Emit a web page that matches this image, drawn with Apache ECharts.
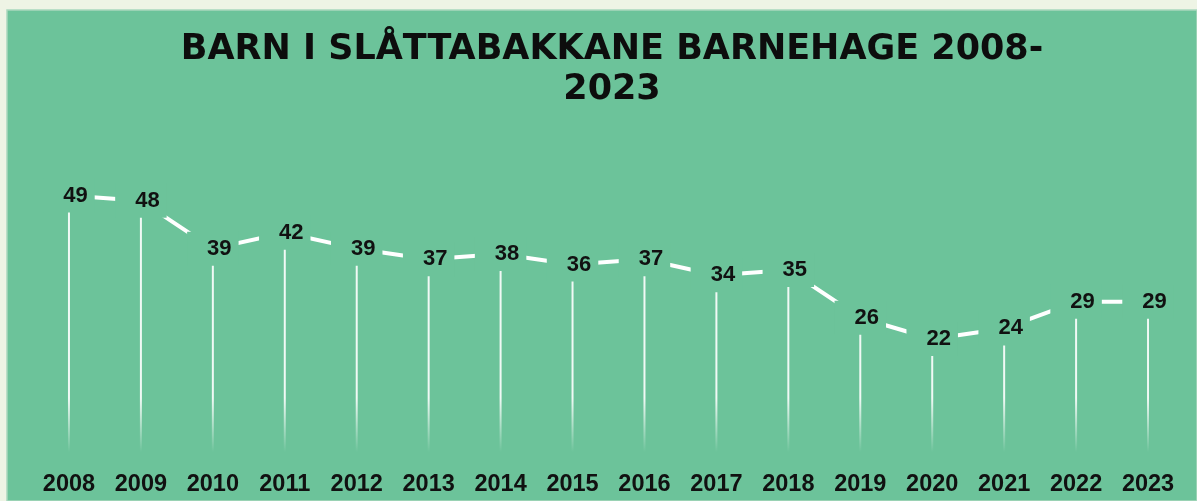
<!DOCTYPE html>
<html>
<head>
<meta charset="utf-8">
<script src="https://cdn.jsdelivr.net/npm/echarts@6/dist/echarts.min.js"></script>
<style>
  html, body { margin: 0; padding: 0; background: #eef4e5; }
  #chart { width: 1197px; height: 501px; }
</style>
</head>
<body>
<div id="chart"></div>
<script>
const years = ['2008', '2009', '2010', '2011', '2012', '2013', '2014', '2015',
  '2016', '2017', '2018', '2019', '2020', '2021', '2022', '2023'];
const children = [49, 48, 39, 42, 39, 37, 38, 36, 37, 34, 35, 26, 22, 24, 29, 29];

const GREEN = '#6cc39a';

const chart = echarts.init(document.getElementById('chart'));

chart.setOption({
  backgroundColor: 'transparent',
  animation: false,
  graphic: [
    {
      type: 'rect',
      z: -10,
      shape: { x: 7, y: 10, width: 1190, height: 491 },
      style: { fill: GREEN, stroke: '#a9d8bd', lineWidth: 1.5 },
    },
  ],
  title: {
    text: 'BARN I SLÅTTABAKKANE BARNEHAGE 2008-\n2023',
    left: 607,
    top: 25,
    textAlign: 'center',
    textStyle: {
      fontFamily: 'DejaVu Sans',
      fontWeight: 'bold',
      fontSize: 35,
      lineHeight: 40,
      color: '#0d0d0d',
    },
  },
  grid: { left: 33, right: 13, top: 137, bottom: 45 },
  xAxis: {
    type: 'category',
    data: years,
    boundaryGap: true,
    axisLine: { show: false },
    axisTick: { show: false },
    axisLabel: {
      margin: 17,
      fontFamily: 'Liberation Sans',
      fontWeight: 'bold',
      fontSize: 23.5,
      color: '#111',
    },
  },
  yAxis: {
    type: 'value',
    min: 0,
    max: 60,
    show: false,
    splitLine: { show: false },
  },
  series: [
    {
      // drop lines
      type: 'bar',
      data: children,
      barWidth: 2,
      silent: true,
      itemStyle: {
        color: {
          type: 'linear',
          x: 0, y: 398, x2: 0, y2: 452,
          global: true,
          colorStops: [
            { offset: 0, color: 'rgba(255,255,255,0.9)' },
            { offset: 1, color: 'rgba(255,255,255,0)' },
          ],
        },
      },
    },
    {
      type: 'line',
      data: children,
      symbol: 'circle',
      symbolSize: 1,
      showSymbol: true,
      itemStyle: { color: 'rgba(0,0,0,0)' },
      lineStyle: { color: '#ffffff', width: 4 },
      label: {
        show: true,
        position: 'inside',
        fontFamily: 'Liberation Sans',
        fontWeight: 'bold',
        fontSize: 22,
        color: '#111',
        backgroundColor: GREEN,
        padding: [7, 7, 5, 20],
      },
      z: 3,
    },
  ],
});
</script>
</body>
</html>
